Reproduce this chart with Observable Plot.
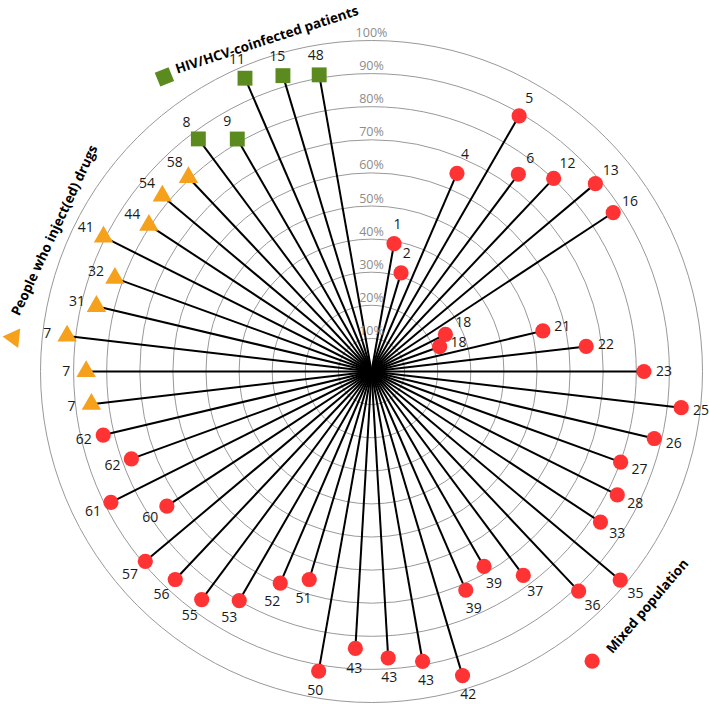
<!DOCTYPE html>
<html><head><meta charset="utf-8">
<script src="https://cdn.jsdelivr.net/npm/d3@7"></script>
<script src="https://cdn.jsdelivr.net/npm/@observablehq/plot@0.6"></script>
<style>
body{margin:0;background:#fff;}
#chart svg{display:block;}
</style>
</head><body><div id="chart"></div>
<script>
// ---- data (study reference numbers and radial values in %) ----
const mixedIds = [1,2,4,5,6,12,13,16,18,18,21,22,23,25,26,27,28,33,35,36,37,39,39,42,43,43,43,50,51,52,53,55,56,57,60,61,62,62];
const mixedValues = [39.2,31.1,65.2,89.2,74.3,80.2,88.3,87.4,25,21.9,53.2,65.3,82.3,94.2,87.8,80.1,83.1,82.8,98.1,91.2,76.8,68,71.9,95.9,88.9,86.7,83.8,91.9,65.6,69.6,79.9,85.9,86.4,89.2,74,88.1,77.2,83.3];
const pwidIds = [7,7,7,31,32,41,44,54,58];
const pwidValues = [85.2,86.2,92.6,85.4,82.5,90.6,80.5,82.5,80.6];
const hivIds = [8,9,11,15,48];
const hivValues = [87.6,81.1,96.5,93.3,91];
const ringTicks = [10,20,30,40,50,60,70,80,90,100];
const ringLabels = ["10%","20%","30%","40%","50%","60%","70%","80%","90%","100%"];
const seriesNames = ["Mixed population","People who inject(ed) drugs","HIV/HCV-coinfected patients"];

// ---- layout ----
const W = 709, H = 704, CX = 371, CY = 371, PX = 3.31; // px per percent
const SLOTS = 54, START = 10;
const deg = Math.PI / 180;
const styleOf = {
  mixed: {color: "#ff3333", symbol: "circle", r: 7.6},
  pwid: {color: "#f5a11c", symbol: "triangle", r: 7.2},
  hiv: {color: "#5b8a1f", symbol: "square", r: 8.4}
};

const rows = [];
let idx = 0;
[[mixedIds, mixedValues, "mixed"], [pwidIds, pwidValues, "pwid"], [hivIds, hivValues, "hiv"]].forEach(([ids, vals, g]) => {
  ids.forEach((id, i) => {
    rows.push({id, value: vals[i], group: g, a: (START + idx * 360 / SLOTS) * deg});
    idx++;
  });
});
const LOFF = 20 / PX; // label offset in %
const X = (v, a) => v * Math.sin(a);
const Y = (v, a) => v * Math.cos(a);

// label positions: radial offset, then a light collision relaxation (in px units)
const FS = 14, LH = 20;
rows.forEach(d => {
  d.lx = X(d.value + LOFF, d.a) * PX;
  d.ly = Y(d.value + LOFF, d.a) * PX;
  d.lw = String(d.id).length * FS * 0.6;
});
for (let it = 0; it < 40; it++) {
  for (let i = 0; i < rows.length; i++) for (let j = i + 1; j < rows.length; j++) {
    const p = rows[i], q = rows[j];
    const ox = (p.lw + q.lw) / 2 - Math.abs(p.lx - q.lx);
    const dy = p.ly - q.ly;
    const oy = LH - Math.abs(dy);
    if (ox > 0 && oy > 0) {
      const s = dy >= 0 ? 1 : -1;
      p.ly += s * (oy / 2 + 0.3);
      q.ly -= s * (oy / 2 + 0.3);
    }
  }
}

const rings = ringTicks.map((t, i) => ({t, label: ringLabels[i]}));

// legend layout (polar placement around the chart)
const legend = [
  {name: seriesNames[0], g: "mixed", ta: 130.4, tr: 109.5, rot: -49.6, ma: 142.7, mr: 110, mrot: 0},
  {name: seriesNames[1], g: "pwid", ta: -66, tr: 104.8, rot: -65, ma: -84.6, mr: 108.6, mrot: -84},
  {name: seriesNames[2], g: "hiv", ta: -17.5, tr: 105, rot: -18, ma: -35.1, mr: 108.8, mrot: -22}
];

const marks = [
  Plot.dot(rings, {x: () => 0, y: () => 0, r: "t", stroke: "#999", strokeWidth: 1, fill: "none"}),
  Plot.link(rows, {x1: () => 0, y1: () => 0, x2: d => X(d.value, d.a), y2: d => Y(d.value, d.a), stroke: "#000", strokeWidth: 2}),
  Plot.text(rings, {x: () => 0, y: "t", text: "label", dy: -7.5, fill: "#8c8c8c", fontSize: 12.5, textAnchor: "middle"})
];
for (const g of ["mixed", "pwid", "hiv"]) {
  const s = styleOf[g];
  const sub = rows.filter(d => d.group === g);
  marks.push(Plot.dot(sub, {x: d => X(d.value, d.a), y: d => Y(d.value, d.a), symbol: () => s.symbol, r: s.r, fill: s.color, stroke: "none"}));
  const lg = legend.find(l => l.g === g);
  marks.push(Plot.dot([lg], {x: d => X(d.mr, d.ma * deg), y: d => Y(d.mr, d.ma * deg), symbol: () => s.symbol, r: s.r, fill: s.color, rotate: lg.mrot}));
}
marks.push(Plot.text(rows, {x: d => d.lx / PX, y: d => d.ly / PX, text: d => String(d.id), fill: "#1a1a1a", fontSize: FS, textAnchor: "middle"}));
marks.push(Plot.text(legend, {x: d => X(d.tr, d.ta * deg), y: d => Y(d.tr, d.ta * deg), text: "name", rotate: d => d.rot, fontWeight: "bold", fontSize: 13.5, fill: "#000", textAnchor: "middle"}));

const chart = Plot.plot({
  width: W, height: H, margin: 0,
  style: {fontFamily: "'Open Sans', 'Noto Sans', sans-serif", background: "#fff"},
  x: {domain: [(0 - CX) / PX, (W - CX) / PX], axis: null},
  y: {domain: [(CY - H) / PX, CY / PX], axis: null},
  r: {type: "linear", domain: [0, 100], range: [0, 100 * PX]},
  symbol: {type: "identity"},
  marks
});
document.getElementById("chart").appendChild(chart);
</script>
</body></html>
